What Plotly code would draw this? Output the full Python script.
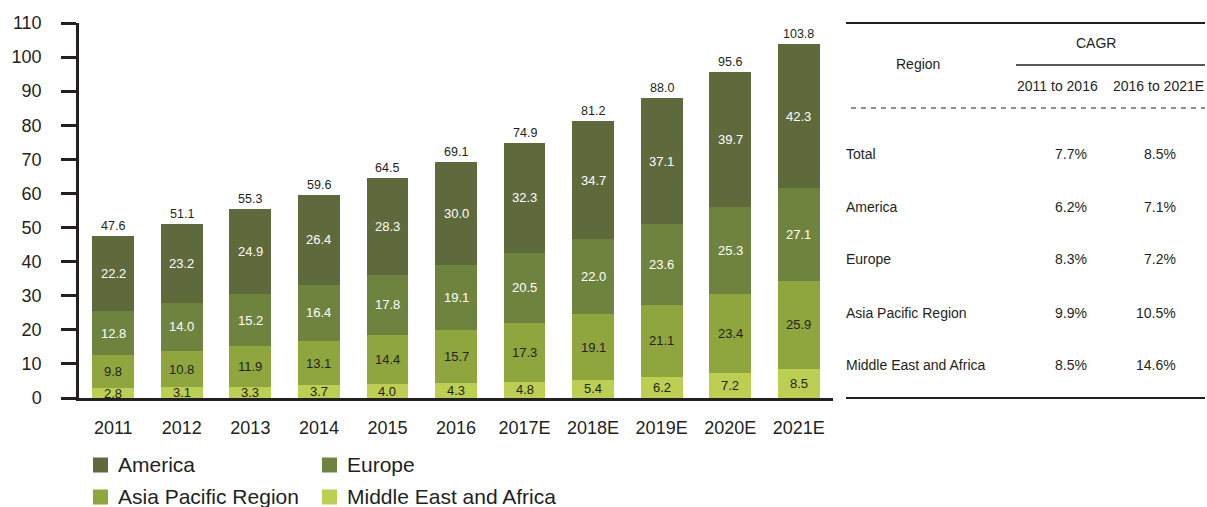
import plotly.graph_objects as go

years = ["2011", "2012", "2013", "2014", "2015", "2016", "2017E", "2018E", "2019E", "2020E", "2021E"]
america = [22.2, 23.2, 24.9, 26.4, 28.3, 30.0, 32.3, 34.7, 37.1, 39.7, 42.3]
europe = [12.8, 14.0, 15.2, 16.4, 17.8, 19.1, 20.5, 22.0, 23.6, 25.3, 27.1]
asia = [9.8, 10.8, 11.9, 13.1, 14.4, 15.7, 17.3, 19.1, 21.1, 23.4, 25.9]
mea = [2.8, 3.1, 3.3, 3.7, 4.0, 4.3, 4.8, 5.4, 6.2, 7.2, 8.5]
totals = [47.6, 51.1, 55.3, 59.6, 64.5, 69.1, 74.9, 81.2, 88.0, 95.6, 103.8]

series_names = ["America", "Europe", "Asia Pacific Region", "Middle East and Africa"]

table_regions = ["Total", "America", "Europe", "Asia Pacific Region", "Middle East and Africa"]
cagr_2011_2016 = ["7.7%", "6.2%", "8.3%", "9.9%", "8.5%"]
cagr_2016_2021 = ["8.5%", "7.1%", "7.2%", "10.5%", "14.6%"]

colors = {"America": "#5e6a3c", "Europe": "#6e843e", "Asia Pacific Region": "#8fa63e",
          "Middle East and Africa": "#bccf52"}
label_colors = {"America": "#ffffff", "Europe": "#ffffff", "Asia Pacific Region": "#231f20",
                "Middle East and Africa": "#231f20"}
INK = "#231f20"
FONT = "Liberation Sans, Arial, sans-serif"

# plot area in pixels
L, R, T, B = 79, 833, 23, 398
W, H = 1207, 507


def px(x):
    return (x - L) / (R - L)


def py(y):
    return (B - y) / (B - T)


xpos = list(range(len(years)))

stack_order = [("Middle East and Africa", mea), ("Asia Pacific Region", asia),
               ("Europe", europe), ("America", america)]

fig = go.Figure()
annotations = []
shapes = []

base = [0.0] * len(years)
for name, vals in stack_order:
    fig.add_trace(go.Bar(x=xpos, y=vals, name=name, marker_color=colors[name],
                         marker_line_width=0, showlegend=False, hoverinfo="skip"))
    for i, v in enumerate(vals):
        annotations.append(dict(x=xpos[i], y=base[i] + v / 2, xref="x", yref="y",
                                text=f"{v:.1f}", showarrow=False, yanchor="middle",
                                font=dict(family=FONT, size=13, color=label_colors[name])))
        base[i] += v

for i, t in enumerate(totals):
    annotations.append(dict(x=xpos[i], y=t, xref="x", yref="y", text=f"{t:.1f}",
                            showarrow=False, yanchor="bottom", yshift=1,
                            font=dict(family=FONT, size=12.5, color=INK)))

# legend (manual, 2 columns)
legend_pos = [(93, 465), (322, 465), (93, 497), (322, 497)]
for name, (lx, ly) in zip(series_names, legend_pos):
    shapes.append(dict(type="rect", xref="paper", yref="paper",
                       x0=px(lx), x1=px(lx + 15), y0=py(ly - 7.5), y1=py(ly + 7.5),
                       fillcolor=colors[name], line_width=0))
    annotations.append(dict(x=px(lx + 23), y=py(ly - 1), xref="paper", yref="paper",
                            text=name, showarrow=False, xanchor="left", yanchor="middle",
                            font=dict(family=FONT, size=21, color=INK)))

# table
TL, TR = 846, 1205
shapes.append(dict(type="line", xref="paper", yref="paper", x0=px(TL), x1=px(TR),
                   y0=py(23), y1=py(23), line=dict(color=INK, width=2)))
shapes.append(dict(type="line", xref="paper", yref="paper", x0=px(1016), x1=px(TR),
                   y0=py(65), y1=py(65), line=dict(color=INK, width=1.5)))
shapes.append(dict(type="line", xref="paper", yref="paper", x0=px(851), x1=px(TR),
                   y0=py(108), y1=py(108), line=dict(color=INK, width=1.2, dash="5px,5px")))
shapes.append(dict(type="line", xref="paper", yref="paper", x0=px(TL), x1=px(TR),
                   y0=py(398), y1=py(398), line=dict(color=INK, width=2)))

tfont = dict(family=FONT, size=14, color=INK)
annotations.append(dict(x=px(918), y=py(64), xref="paper", yref="paper", text="Region",
                        showarrow=False, xanchor="center", yanchor="middle", font=tfont))
annotations.append(dict(x=px(1096), y=py(43), xref="paper", yref="paper", text="CAGR",
                        showarrow=False, xanchor="center", yanchor="middle", font=tfont))
annotations.append(dict(x=px(1057), y=py(86), xref="paper", yref="paper", text="2011 to 2016",
                        showarrow=False, xanchor="center", yanchor="middle", font=tfont))
annotations.append(dict(x=px(1158), y=py(86), xref="paper", yref="paper", text="2016 to 2021E",
                        showarrow=False, xanchor="center", yanchor="middle", font=tfont))

row_y = [154, 207, 259, 313, 365]
for reg, c1, c2, ry in zip(table_regions, cagr_2011_2016, cagr_2016_2021, row_y):
    annotations.append(dict(x=px(TL - 2), y=py(ry), xref="paper", yref="paper", text=reg,
                            showarrow=False, xanchor="left", yanchor="middle", font=tfont))
    annotations.append(dict(x=px(1089), y=py(ry), xref="paper", yref="paper", text=c1,
                            showarrow=False, xanchor="right", yanchor="middle", font=tfont))
    annotations.append(dict(x=px(1178), y=py(ry), xref="paper", yref="paper", text=c2,
                            showarrow=False, xanchor="right", yanchor="middle", font=tfont))

fig.update_layout(
    width=W, height=H,
    margin=dict(l=L, r=W - R, t=T, b=H - B, pad=0),
    barmode="stack", bargap=0.39,
    plot_bgcolor="white", paper_bgcolor="white",
    font=dict(family=FONT, color=INK),
    annotations=annotations, shapes=shapes,
    showlegend=False,
)
fig.update_xaxes(range=[-0.5, len(years) - 0.5], tickmode="array", tickvals=xpos, ticktext=years,
                 showline=True, linecolor=INK, linewidth=2.5,
                 ticks="", showgrid=False, zeroline=False,
                 tickfont=dict(family=FONT, size=18, color=INK), ticklabelstandoff=12)
fig.update_yaxes(range=[0, 110], dtick=10, showline=True, linecolor=INK, linewidth=2.5,
                 ticks="outside", ticklen=15, tickwidth=2.5, tickcolor=INK,
                 showgrid=False, zeroline=False,
                 tickfont=dict(family=FONT, size=18, color=INK), ticklabelstandoff=16)

fig.write_html("out.html", config={"displayModeBar": False},
               post_script="document.body.style.margin='0';document.body.style.overflow='hidden';")
